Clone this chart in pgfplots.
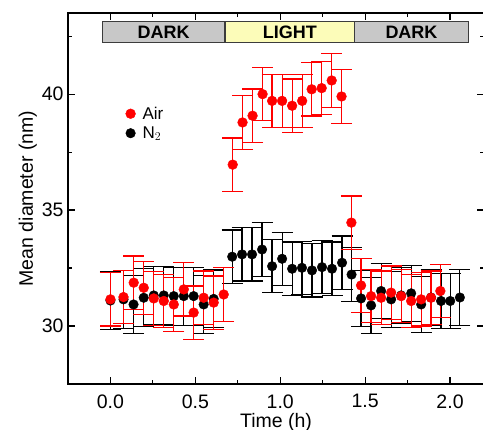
\documentclass[border=0pt]{standalone}
\usepackage{pgfplots}
\usepackage{pgfplotstable}
\pgfplotsset{compat=1.18}
\usepackage{fontspec}
\setmainfont{Liberation Sans}
\definecolor{bargray}{RGB}{200,200,200}
\definecolor{baryellow}{RGB}{252,252,185}
\definecolor{bardraw}{RGB}{60,60,60}

\pgfplotstableread{
t v e
0.000 31.10 1.25
0.077 31.15 1.25
0.136 30.93 1.25
0.196 31.22 1.25
0.255 31.32 1.25
0.314 31.32 1.25
0.373 31.29 1.25
0.432 31.29 1.25
0.490 31.29 1.25
0.549 30.93 1.25
0.608 31.17 1.25
0.717 32.99 1.15
0.775 33.09 1.15
0.834 33.09 1.15
0.893 33.30 1.15
0.952 32.58 1.15
1.011 32.90 1.15
1.070 32.47 1.15
1.128 32.51 1.15
1.187 32.40 1.15
1.246 32.54 1.15
1.305 32.47 1.15
1.364 32.73 1.15
1.420 32.22 1.15
1.476 31.19 1.2
1.535 30.89 1.2
1.594 31.51 1.2
1.653 31.15 1.2
1.712 31.32 1.2
1.771 31.41 1.2
1.830 30.93 1.2
1.888 31.23 1.2
1.947 31.08 1.2
2.001 31.08 1.2
2.058 31.23 1.2
}\nitrogen

\pgfplotstableread{
t v e
0.000 31.15 1.15
0.077 31.25 1.15
0.137 31.87 1.15
0.196 31.65 1.15
0.255 31.19 1.15
0.314 31.08 1.15
0.373 30.93 1.15
0.432 31.58 1.15
0.490 30.58 1.15
0.549 31.22 1.15
0.608 31.01 1.15
0.667 31.36 1.15
0.720 36.96 1.15
0.778 38.78 1.15
0.837 39.07 1.15
0.896 40.00 1.15
0.952 39.71 1.15
1.011 39.71 1.15
1.070 39.50 1.15
1.129 39.71 1.15
1.185 40.21 1.15
1.244 40.26 1.15
1.303 40.59 1.15
1.361 39.90 1.15
1.419 34.46 1.15
1.476 31.75 1.15
1.535 31.29 1.15
1.594 31.22 1.15
1.653 31.44 1.15
1.712 31.29 1.15
1.771 31.08 1.15
1.830 31.15 1.15
1.888 31.22 1.15
1.943 31.51 1.15
}\air

\begin{document}
\begin{tikzpicture}
\begin{axis}[
  at={(0,0)}, anchor=south west,
  scale only axis,
  width=416bp, height=371bp,
  xmin=-0.25, xmax=2.2,
  ymin=27.5, ymax=43.5,
  xtick={0,0.5,1,1.5,2},
  minor xtick={0.25,0.75,1.25,1.75},
  ytick={30,35,40},
  minor ytick={32.5,37.5,42.5},
  xticklabels={0.0,0.5,1.0,1.5,2.0},
  tick align=inside,
  major tick length=7bp,
  minor tick length=4bp,
  every tick/.style={black, line width=1.2bp},
  axis line style={line width=1.5bp},
  /pgf/number format/assume math mode=true,
  ticklabel style={font=\fontsize{19.5bp}{22bp}\selectfont},
  xticklabel style={yshift=-7bp},
  yticklabel style={xshift=-1bp},
  xlabel={Time (h)},
  ylabel={Mean diameter (nm)},
  label style={font=\fontsize{19.5bp}{22bp}\selectfont},
  xlabel style={at={(axis description cs:0.5,-0.103)}, anchor=center, inner sep=0pt},
  ylabel style={yshift=-2bp},
  reverse legend,
  legend style={draw=none, fill=none, at={(0.138,0.753)}, anchor=north west,
    font=\fontsize{17bp}{20bp}\selectfont, row sep=2bp, inner sep=0pt},
  legend cell align=left,
  legend image code/.code={\draw[#1] plot coordinates {(0bp,0bp)}; \path[draw=none,fill=none] (-5bp,-1bp) rectangle (10bp,1bp);},
  clip=false,
]
\addplot[only marks, mark=*, mark size=4.8bp, black,
  error bars/.cd, y dir=both, y explicit,
  error bar style={line width=1.2bp, black},
  error mark options={rotate=90, line width=1.2bp, mark size=10.5bp, black}]
  table[x=t, y=v, y error=e]{\nitrogen};
\addplot[only marks, mark=*, mark size=4.9bp, red,
  error bars/.cd, y dir=both, y explicit,
  error bar style={line width=1.2bp, red},
  error mark options={rotate=90, line width=1.2bp, mark size=10.5bp, red}]
  table[x=t, y=v, y error=e]{\air};
\legend{N$_2$, Air}
\draw[bardraw, line width=1.2bp, fill=bargray] (axis cs:-0.049,42.24) rectangle (axis cs:0.675,43.12);
\draw[bardraw, line width=1.2bp, fill=baryellow] (axis cs:0.675,42.24) rectangle (axis cs:1.437,43.12);
\draw[bardraw, line width=1.2bp, fill=bargray] (axis cs:1.437,42.24) rectangle (axis cs:2.110,43.12);
\node[font=\fontsize{18bp}{20bp}\selectfont\bfseries] at (axis cs:0.313,42.68) {DARK};
\node[font=\fontsize{18bp}{20bp}\selectfont\bfseries] at (axis cs:1.056,42.68) {LIGHT};
\node[font=\fontsize{18bp}{20bp}\selectfont\bfseries] at (axis cs:1.773,42.68) {DARK};
\end{axis}
\pgfresetboundingbox
\path[use as bounding box] (-68bp,-46bp) rectangle (415bp,384bp);
\end{tikzpicture}
\end{document}
